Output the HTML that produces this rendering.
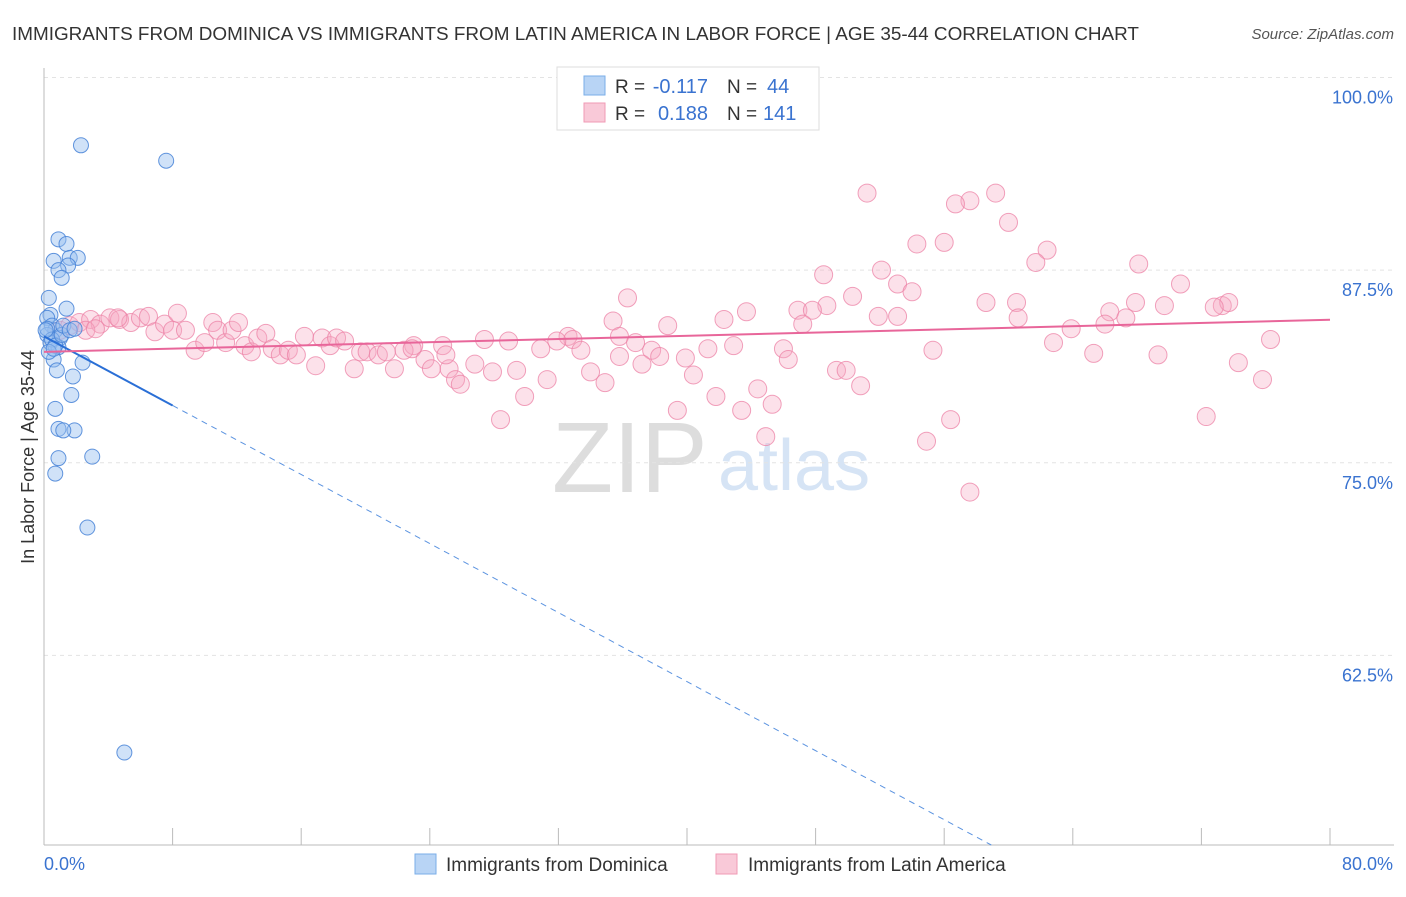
<!DOCTYPE html>
<html><head><meta charset="utf-8">
<style>
body{margin:0;background:#fff;font-family:"Liberation Sans",sans-serif;}
svg text{font-family:"Liberation Sans",sans-serif;}
</style></head>
<body>
<svg id="chart" width="1406" height="892" xmlns="http://www.w3.org/2000/svg">
<text x="12" y="40" font-size="18.9" fill="#333">IMMIGRANTS FROM DOMINICA VS IMMIGRANTS FROM LATIN AMERICA IN LABOR FORCE | AGE 35-44 CORRELATION CHART</text>
<text x="1394" y="39" font-size="15" fill="#555" text-anchor="end" font-style="italic">Source: ZipAtlas.com</text>
<text x="552" y="492" font-size="100" fill="#ddd" font-family="Liberation Serif">ZIP</text>
<text x="718" y="490" font-size="72" fill="#d6e4f5">atlas</text>
<g id="grid"></g>
<g id="axes"></g>
<g id="pinkPts"></g>
<g id="bluePts"></g>
<g id="trends"></g>
<text transform="translate(34,457) rotate(-90)" font-size="18" fill="#333" text-anchor="middle">In Labor Force | Age 35-44</text>
<g>
<rect x="557" y="67" width="262" height="63" fill="#fff" stroke="#ddd"/>
<rect x="584" y="76" width="21" height="19" fill="#b8d4f5" stroke="#7aaee8"/>
<rect x="584" y="103" width="21" height="19" fill="#f9c9d8" stroke="#f09ab5"/>
<text x="615" y="93" font-size="19" fill="#333">R =</text>
<text x="708" y="93" font-size="20" fill="#3a73d0" text-anchor="end">-0.117</text>
<text x="727" y="93" font-size="19" fill="#333">N =</text>
<text x="767" y="93" font-size="20" fill="#3a73d0">44</text>
<text x="615" y="120" font-size="19" fill="#333">R =</text>
<text x="708" y="120" font-size="20" fill="#3a73d0" text-anchor="end">0.188</text>
<text x="727" y="120" font-size="19" fill="#333">N =</text>
<text x="763" y="120" font-size="20" fill="#3a73d0">141</text>
</g>
<g>
<rect x="415" y="854" width="21" height="20" fill="#b8d4f5" stroke="#7aaee8"/>
<text x="446" y="871" font-size="19" fill="#333">Immigrants from Dominica</text>
<rect x="716" y="854" width="21" height="20" fill="#f9c9d8" stroke="#f09ab5"/>
<text x="748" y="871" font-size="19" fill="#333">Immigrants from Latin America</text>
</g>
</svg>
<script>
const blueX=[2.3,7.6,0.9,1.4,0.6,1.6,2.1,1.5,0.9,1.1,0.3,1.4,0.4,0.2,0.5,0.7,0.2,1.0,0.4,0.9,0.6,2.4,0.8,1.8,1.7,0.7,0.9,1.9,1.2,0.9,3.0,0.7,2.7,5.0,0.2,0.5,0.7,1.1,0.1,0.3,0.6,1.2,1.6,1.9];
const blueY=[95.6,94.6,89.5,89.2,88.1,88.3,88.3,87.8,87.5,87.0,85.7,85.0,84.6,84.4,83.9,83.6,83.3,83.1,82.8,82.5,81.7,81.5,81.0,80.6,79.4,78.5,77.2,77.1,77.1,75.3,75.4,74.3,70.8,56.2,83.7,83.0,82.6,83.3,83.6,82.2,82.4,83.9,83.6,83.7];
const pinkX=[51.2,59.2,57.6,56.7,60.0,54.3,56.0,62.4,61.7,68.1,48.5,52.1,53.1,70.7,54.0,36.3,50.3,58.6,60.5,67.9,73.3,73.7,43.7,46.9,48.7,47.8,66.3,69.7,72.8,51.9,53.1,60.6,67.3,35.4,42.3,47.2,66.0,38.8,63.9,35.8,32.6,32.9,31.9,27.4,28.9,36.8,42.9,62.8,76.3,23.0,24.8,46.0,55.3,37.8,41.3,30.9,33.4,38.3,39.9,65.3,69.3,46.3,35.8,37.2,34.0,29.4,27.9,26.8,25.2,31.3,34.9,40.4,25.6,25.9,49.3,49.9,74.3,75.8,50.8,44.4,45.3,41.8,43.4,29.9,39.4,28.4,72.3,56.4,54.9,44.9,57.6,
1.0,1.6,2.2,2.9,3.5,4.1,4.7,5.4,6.0,6.5,6.9,7.5,8.0,8.3,8.8,9.4,10.0,10.5,10.8,11.3,11.7,12.1,12.5,12.9,13.3,13.8,14.2,14.7,15.2,15.7,16.2,16.9,17.3,17.8,18.2,18.7,19.3,19.7,20.1,20.8,21.3,21.8,22.4,22.9,23.7,24.1,25.0,2.6,3.2,4.6];
const pinkY=[92.5,92.5,92.0,91.8,90.6,89.2,89.3,88.8,88.0,87.9,87.2,87.5,86.6,86.6,86.1,85.7,85.8,85.4,85.4,85.4,85.2,85.4,84.8,84.9,85.2,84.9,84.8,85.2,85.1,84.5,84.5,84.4,84.4,84.2,84.3,84.0,84.0,83.9,83.7,83.2,83.2,83.0,82.9,83.0,82.9,82.8,82.6,82.8,83.0,82.6,82.6,82.4,82.3,82.3,82.4,82.4,82.3,81.9,81.8,82.1,82.0,81.7,81.9,81.4,80.9,81.0,80.9,81.4,81.1,80.4,80.2,80.7,80.4,80.1,81.0,81.0,81.5,80.4,80.0,79.8,78.8,79.3,78.4,79.3,78.4,77.8,78.0,77.8,76.4,76.7,73.1,
83.6,83.9,84.1,84.3,84.0,84.4,84.3,84.1,84.4,84.5,83.5,84.0,83.6,84.7,83.6,82.3,82.8,84.1,83.6,82.8,83.6,84.1,82.6,82.2,83.1,83.4,82.4,82.0,82.3,82.0,83.2,81.3,83.1,82.6,83.1,82.9,81.1,82.2,82.2,82.0,82.2,81.1,82.3,82.4,81.7,81.1,82.0,83.6,83.7,84.4];
const yTicks=[100,87.5,75,62.5];
const yTickLabels=["100.0%","87.5%","75.0%","62.5%"];
const xTicks=[0,8,16,24,32,40,48,56,64,72,80];
const blueTrend=[83.2,-0.56];
const pinkTrend=[82.2,0.026];
const blueSolidEnd=8;

const NS="http://www.w3.org/2000/svg";
const X0=44,X1=1330,Y0=845,Y1=77.5,YMIN=50.2,YMAX=100;
const sx=v=>X0+(X1-X0)*v/80;
const sy=v=>Y0-(Y0-Y1)*(v-YMIN)/(YMAX-YMIN);
function mk(tag,attrs,parent){const e=document.createElementNS(NS,tag);for(const k in attrs)e.setAttribute(k,attrs[k]);parent.appendChild(e);return e;}
const grid=document.getElementById('grid'),axes=document.getElementById('axes');
yTicks.forEach((t,i)=>{
  const g=mk('line',{x1:X0,x2:1394,y1:sy(t),y2:sy(t),stroke:'#e3e3e3','stroke-dasharray':'4,4'},grid);
  
  
  const l=mk('text',{x:1393,y:sy(t)+26,'text-anchor':'end','font-size':18,fill:'#3a73d0'},axes);
  l.textContent=yTickLabels[i];
  
  
});
const ax=mk('line',{x1:X0,x2:X0,y1:68,y2:Y0,stroke:'#bbb'},axes);


const bx=mk('line',{x1:X0,x2:1394,y1:Y0,y2:Y0,stroke:'#bbb'},axes);


xTicks.forEach(t=>{
  const k=mk('line',{x1:sx(t),x2:sx(t),y1:828,y2:Y0,stroke:'#bbb'},axes);
  
  
});
const xl0=mk('text',{x:44,y:870,'font-size':18,fill:'#3a73d0'},axes);xl0.textContent='0.0%';


const xl1=mk('text',{x:1393,y:870,'font-size':18,fill:'#3a73d0','text-anchor':'end'},axes);xl1.textContent='80.0%';


const pg=document.getElementById('pinkPts');
pinkX.forEach((x,i)=>{
  const c=mk('circle',{cx:sx(x),cy:sy(pinkY[i]),r:9,fill:'rgba(246,170,196,0.35)',stroke:'rgba(236,130,165,0.75)','stroke-width':1},pg);
  
  
});
const bg=document.getElementById('bluePts');
blueX.forEach((x,i)=>{
  const c=mk('circle',{cx:sx(x),cy:sy(blueY[i]),r:7.5,fill:'rgba(150,190,240,0.45)',stroke:'rgba(70,130,215,0.85)','stroke-width':1},bg);
  
  
});
const tg=document.getElementById('trends');
const bEnd=(YMIN-blueTrend[0])/blueTrend[1];
const bt=mk('line',{x1:sx(0),y1:sy(blueTrend[0]),x2:sx(blueSolidEnd),y2:sy(blueTrend[0]+blueTrend[1]*blueSolidEnd),stroke:'#2a6fd6','stroke-width':2},tg);


const bd=mk('line',{x1:sx(blueSolidEnd),y1:sy(blueTrend[0]+blueTrend[1]*blueSolidEnd),x2:sx(bEnd),y2:sy(YMIN),stroke:'#5b93e0','stroke-width':1,'stroke-dasharray':'6,5'},tg);


const pt=mk('line',{x1:sx(0),y1:sy(pinkTrend[0]),x2:sx(80),y2:sy(pinkTrend[0]+pinkTrend[1]*80),stroke:'#e8669a','stroke-width':2},tg);


</script>
</body></html>
